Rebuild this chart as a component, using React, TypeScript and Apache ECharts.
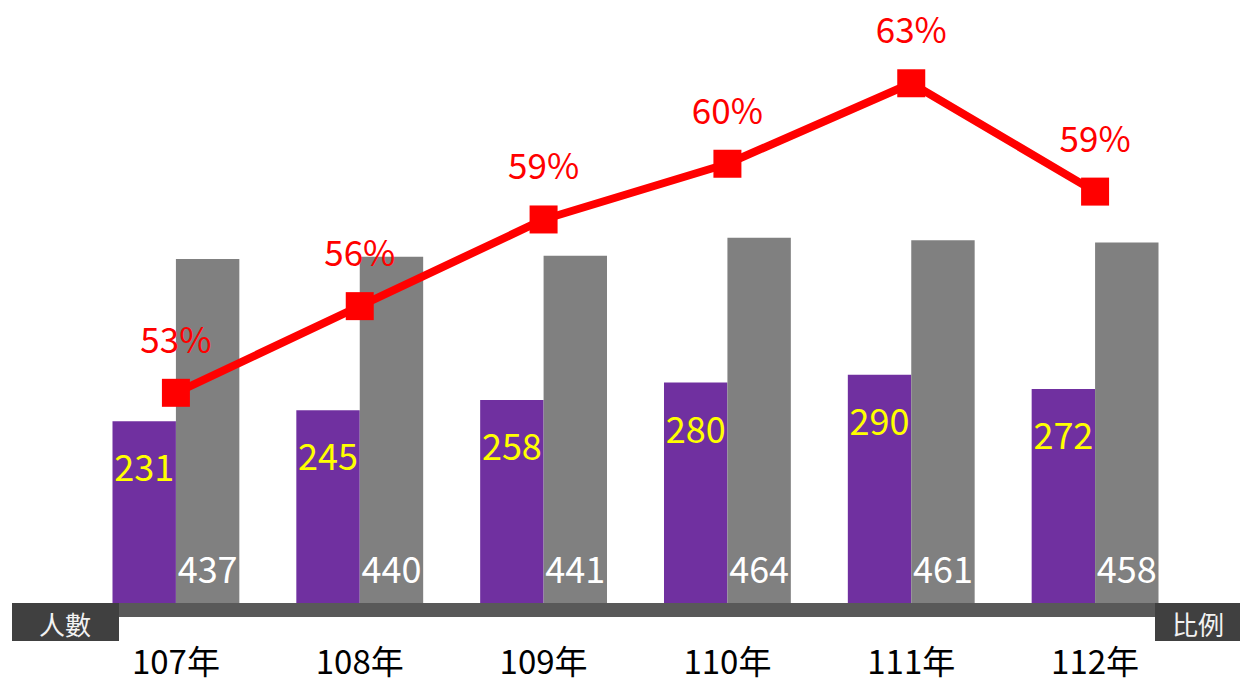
import React, { useEffect, useRef } from "react";
import * as echarts from "echarts";

const categories = ["107年", "108年", "109年", "110年", "111年", "112年"];
const counts = [231, 245, 258, 280, 290, 272];
const totals = [437, 440, 441, 464, 461, 458];
const ratios = [52.9, 55.7, 58.5, 60.3, 62.9, 59.4];

const FONT = "'Noto Sans CJK TC', 'Noto Sans', sans-serif";

export default function App() {
  const ref = useRef<HTMLDivElement>(null);
  useEffect(() => {
    if (!ref.current) return;
    const chart = echarts.init(ref.current, undefined, { renderer: "svg" });
    chart.setOption({
      animation: false,
      backgroundColor: "#ffffff",
      textStyle: { fontFamily: FONT },
      grid: { left: 84, right: 53, top: 52, bottom: 78 },
      xAxis: {
        type: "category",
        data: categories,
        axisLine: { show: false },
        axisTick: { show: false },
        axisLabel: {
          color: "#000000",
          fontSize: 33,
          lineHeight: 33,
          margin: 40,
          fontFamily: FONT,
        },
      },
      yAxis: [
        { type: "value", min: 0, max: 700, show: false, splitLine: { show: false } },
        { type: "value", min: 46.11, max: 63.91, show: false, splitLine: { show: false } },
      ],
      graphic: [
        { type: "rect", left: 110, top: 603, shape: { width: 1130, height: 14 }, style: { fill: "#595959" }, z: 1 },
        { type: "rect", left: 12, top: 603, shape: { width: 107, height: 38 }, style: { fill: "#404040" }, z: 2 },
        { type: "rect", left: 1155, top: 603, shape: { width: 85, height: 38 }, style: { fill: "#404040" }, z: 2 },
        { type: "text", x: 65, y: 623, style: { text: "人數", fill: "#f2f2f2", font: `26px ${FONT}`, textAlign: "center", textVerticalAlign: "middle" }, z: 3 },
        { type: "text", x: 1198, y: 623, style: { text: "比例", fill: "#f2f2f2", font: `26px ${FONT}`, textAlign: "center", textVerticalAlign: "middle" }, z: 3 },
      ],
      series: [
        {
          type: "bar",
          data: counts,
          yAxisIndex: 0,
          barGap: "0%",
          barCategoryGap: "31%",
          itemStyle: { color: "#7030A0" },
          label: {
            show: true,
            position: "insideTop",
            distance: 26,
            color: "#FFFF00",
            fontSize: 36,
            fontFamily: FONT,
          },
        },
        {
          type: "bar",
          data: totals,
          yAxisIndex: 0,
          itemStyle: { color: "#808080" },
          label: {
            show: true,
            position: "insideBottom",
            distance: 18,
            color: "#FFFFFF",
            fontSize: 36,
            fontFamily: FONT,
          },
        },
        {
          type: "line",
          data: ratios,
          yAxisIndex: 1,
          symbol: "rect",
          symbolSize: 28,
          z: 5,
          lineStyle: { color: "#FF0000", width: 8 },
          itemStyle: { color: "#FF0000" },
          label: {
            show: true,
            position: "top",
            distance: 24,
            color: "#FF0000",
            fontSize: 35,
            fontFamily: FONT,
            formatter: (p: any) => Math.round(p.value) + "%",
          },
        },
      ],
    });
    return () => chart.dispose();
  }, []);
  return (
    <div
      ref={ref}
      style={{ position: "absolute", left: 0, top: 0, width: 1240, height: 681 }}
    />
  );
}
